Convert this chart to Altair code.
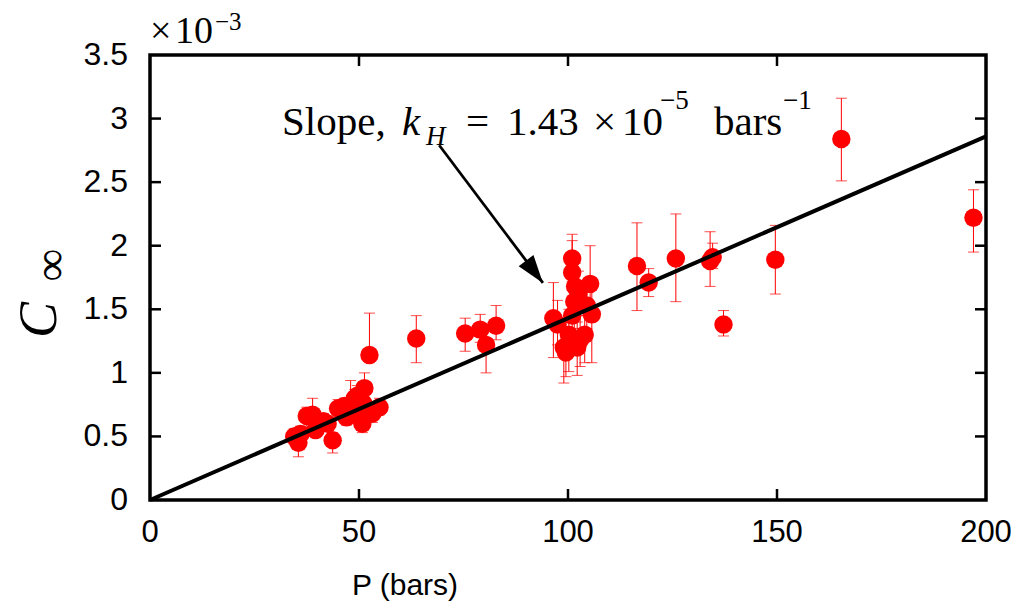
import altair as alt
import pandas as pd

# ---------------- data (C in units of 1e-3) ----------------
P = [34.5, 35.5, 36.0, 37.5, 38.9, 39.6, 41.5, 42.5, 43.7, 45.0,
     46.5, 47.0, 48.0, 49.0, 49.6, 50.3, 50.8, 51.3, 51.0, 52.0,
     52.5, 53.2, 54.9,
     63.7, 75.4, 79.0, 80.4, 82.8,
     96.5, 97.5, 99.0, 99.5, 100.2, 101.0, 101.0, 101.7, 101.5, 101.0,
     102.5, 102.9, 102.2, 104.0, 104.5, 105.3, 105.7,
     116.5, 119.3, 125.8, 134.0, 134.6, 137.2, 149.6, 165.4, 197.0]
C = [0.50, 0.45, 0.52, 0.66, 0.67, 0.55, 0.62, 0.60, 0.47, 0.72,
     0.74, 0.65, 0.72, 0.80, 0.82, 0.66, 0.60, 0.88, 0.76, 0.70,
     1.14, 0.68, 0.73,
     1.27, 1.31, 1.34, 1.22, 1.37,
     1.43, 1.38, 1.20, 1.16, 1.30, 1.90, 1.79, 1.68, 1.56, 1.45,
     1.62, 1.26, 1.20, 1.30, 1.53, 1.70, 1.46,
     1.84, 1.71, 1.90, 1.88, 1.91, 1.38, 1.89, 2.84, 2.22]
C_lo = [0.44, 0.34, 0.46, 0.58, 0.60, 0.49, 0.57, 0.55, 0.37, 0.66,
        0.68, 0.59, 0.65, 0.72, 0.75, 0.60, 0.53, 0.80, 0.70, 0.63,
        1.08, 0.61, 0.67,
        1.08, 1.17, 1.24, 1.00, 1.26,
        1.12, 1.22, 0.92, 0.97, 1.01, 1.72, 1.60, 1.50, 1.35, 1.20,
        1.45, 1.05, 0.98, 1.08, 1.35, 1.50, 1.08,
        1.49, 1.60, 1.56, 1.68, 1.82, 1.29, 1.62, 2.51, 1.95]
C_hi = [0.56, 0.52, 0.58, 0.73, 0.80, 0.62, 0.68, 0.66, 0.53, 0.79,
        0.80, 0.72, 0.94, 0.87, 0.90, 0.73, 0.67, 1.00, 0.83, 0.77,
        1.47, 0.75, 0.80,
        1.45, 1.43, 1.46, 1.38, 1.53,
        1.71, 1.57, 1.40, 1.35, 1.50, 2.09, 2.04, 1.86, 1.79, 1.65,
        1.80, 1.45, 1.40, 1.50, 1.70, 2.00, 1.70,
        2.18, 1.82, 2.25, 2.11, 2.02, 1.49, 2.16, 3.16, 2.44]

fit_x = [0, 200]
fit_y = [0, 2.86]

arrow_x = [69.2, 94.0]
arrow_y = [2.79, 1.707]

x_ticks = [0, 50, 100, 150, 200]
x_labels = ["0", "50", "100", "150", "200"]
y_ticks = [0, 0.5, 1, 1.5, 2, 2.5, 3, 3.5]
y_labels = ["0", "0.5", "1", "1.5", "2", "2.5", "3", "3.5"]
x_inner = [50, 100, 150]
y_inner = [0.5, 1, 1.5, 2, 2.5, 3]

# ---------------- layout ----------------
W, H = 836, 445
SERIF = "Liberation Serif"
SANS = "Liberation Sans"
RED = "#ff0000"

xs = alt.Scale(domain=[0, 200], nice=False, zero=False)
ys = alt.Scale(domain=[0, 3.5], nice=False, zero=False)

df = pd.DataFrame({"P": P, "C": C, "lo": C_lo, "hi": C_hi})
base = alt.Chart(df)
xq = alt.X("P:Q", scale=xs, axis=None)

err = base.mark_rule(color=RED, strokeWidth=1).encode(
    x=xq, y=alt.Y("lo:Q", scale=ys, axis=None), y2="hi:Q")
cap_lo = base.mark_tick(color=RED, orient="horizontal", size=11, thickness=1).encode(
    x=xq, y=alt.Y("lo:Q", scale=ys, axis=None))
cap_hi = base.mark_tick(color=RED, orient="horizontal", size=11, thickness=1).encode(
    x=xq, y=alt.Y("hi:Q", scale=ys, axis=None))
pts = base.mark_circle(color=RED, size=340, opacity=1).encode(
    x=xq, y=alt.Y("C:Q", scale=ys, axis=None))

fit = alt.Chart(pd.DataFrame({"x": fit_x, "y": fit_y})).mark_line(
    color="black", strokeWidth=4).encode(
    x=alt.X("x:Q", scale=xs, axis=None), y=alt.Y("y:Q", scale=ys, axis=None))

adf = pd.DataFrame({"x": arrow_x, "y": arrow_y})
arrow_line = alt.Chart(adf).mark_line(color="black", strokeWidth=2.8).encode(
    x=alt.X("x:Q", scale=xs, axis=None), y=alt.Y("y:Q", scale=ys, axis=None))
arrow_head = alt.Chart(adf.tail(1)).mark_point(
    shape="M0,0 L0.33,1 L-0.33,1 Z", filled=True, fill="black", strokeWidth=0,
    size=3136, angle=143, opacity=1).encode(
    x=alt.X("x:Q", scale=xs, axis=None), y=alt.Y("y:Q", scale=ys, axis=None))

# inward ticks on all four sides
ty = alt.Chart(pd.DataFrame({"v": y_inner}))
tx = alt.Chart(pd.DataFrame({"v": x_inner}))
yv = alt.Y("v:Q", scale=ys, axis=None)
xv = alt.X("v:Q", scale=xs, axis=None)
tick_l = ty.mark_rule(color="black", strokeWidth=2.5).encode(y=yv, x=alt.value(0), x2=alt.value(11))
tick_r = ty.mark_rule(color="black", strokeWidth=2.5).encode(y=yv, x=alt.value(W - 11), x2=alt.value(W))
tick_b = tx.mark_rule(color="black", strokeWidth=2.5).encode(x=xv, y=alt.value(H - 11), y2=alt.value(H))
tick_t = tx.mark_rule(color="black", strokeWidth=2.5).encode(x=xv, y=alt.value(0), y2=alt.value(11))

# tick labels placed through the scales
xlab = alt.Chart(pd.DataFrame({"v": x_ticks, "t": x_labels})).mark_text(
    font=SANS, fontSize=31, color="black", align="center", baseline="middle").encode(
    x=xv, y=alt.value(H + 33), text="t:N")
ylab = alt.Chart(pd.DataFrame({"v": y_ticks, "t": y_labels})).mark_text(
    font=SANS, fontSize=32, color="black", align="right", baseline="middle").encode(
    y=yv, x=alt.value(-22), text="t:N")

one = pd.DataFrame({"a": [0]})


def txt(s, x, y, size, font=SERIF, style="normal", align="left",
        baseline="alphabetic", angle=None):
    kw = dict(text=s, font=font, fontSize=size, fontStyle=style, align=align,
              baseline=baseline, color="black")
    if angle:
        kw["angle"] = angle
    return alt.Chart(one).mark_text(**kw).encode(x=alt.value(x), y=alt.value(y))


MAIN = 41
SUP = 27
BL = 80
texts = [
    # slope annotation
    txt("Slope,", 132, BL, MAIN),
    txt("k", 252, BL, MAIN, style="italic"),
    txt("H", 276, BL + 10, SUP, style="italic"),
    txt("=", 316, BL, MAIN),
    txt("1.43", 357, BL, MAIN),
    txt("×", 443, BL, MAIN),
    txt("10", 472, BL, MAIN),
    txt("−5", 510, BL - 26, SUP),
    txt("bars", 564, BL, MAIN),
    txt("−1", 633, BL - 26, SUP),
    # axis multiplier
    txt("×", 0, -12, 38),
    txt("10", 25, -12, 38),
    txt("−3", 65, -25, 25),
    # axis titles
    txt("C", -110, 265, 54, style="italic", align="center", baseline="middle", angle=270),
    txt("∞", -98, 210, 46, align="center", baseline="middle", angle=270),
    txt("P (bars)", 255, 531, 30, font=SANS, align="center", baseline="middle"),
]

chart = alt.layer(
    err, cap_lo, cap_hi, pts, fit, arrow_line, arrow_head,
    tick_l, tick_r, tick_b, tick_t, xlab, ylab, *texts
).properties(
    width=W, height=H,
    autosize=alt.AutoSizeParams(type="none"),
    padding={"left": 142, "top": 47, "right": 27, "bottom": 102},
).configure_view(
    stroke="black", strokeWidth=3.5
)

chart.save("out.html", embed_options={"renderer": "svg", "actions": False})
